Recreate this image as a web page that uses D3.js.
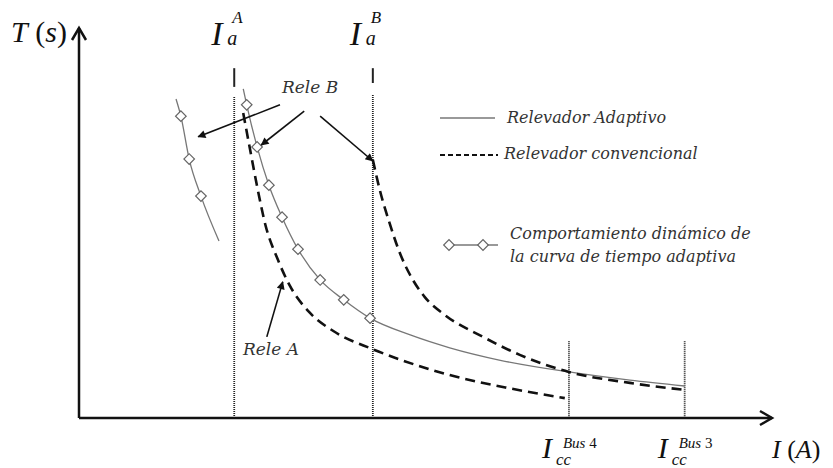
<!DOCTYPE html>
<html>
<head>
<meta charset="utf-8">
<script src="https://cdn.jsdelivr.net/npm/d3@7"></script>
<style>
  body { margin: 0; background: #fff; }
  svg { display: block; }
  .math { font-family: "Liberation Serif", "Times New Roman", serif; font-style: italic; fill: #111; }
  .note { font-family: "DejaVu Serif", serif; font-style: italic; fill: #333; }
</style>
</head>
<body>
<div id="chart"></div>
<script>
// schematic units: I (current) and T (time), both 0..100

// dashed conventional relay curves
var releA_conv = [[23.7,78.2],[24.7,68.7],[25.8,58.5],[26.9,49.5],[28.6,41.0],[30.4,34.0],[33.3,27.0],
                  [36.7,22.3],[42.3,17.7],[46.3,15.0],[53.5,11.0],[62.2,7.6],[70.1,5.1]]
var releB_conv = [[42.4,66.2],[43.4,58.5],[44.9,49.5],[46.3,42.3],[47.8,36.6],[49.9,31.0],[52.8,26.4],
                  [58.3,20.8],[63.6,16.2],[70.7,11.8],[79.5,9.0],[87.4,7.2]]
// adaptive relay (solid)
var adaptive = [[23.7,84.4],[24.2,80.3],[25.7,69.5],[27.4,59.7],[29.3,51.5],[31.6,43.3],[34.8,35.4],
                [38.2,30.3],[42.0,25.6],[47.8,21.3],[53.5,18.0],[60.8,14.8],[70.7,11.8],[79.5,9.7],[87.4,8.2]]
var adaptiveDiamonds = [[24.2,80.3],[25.7,69.5],[27.4,59.7],[29.3,51.5],[31.6,43.3],[34.8,35.4],[38.2,30.3],[42.0,25.6]]
// earlier position of the adaptive curve
var previous = [[14.0,81.8],[14.7,77.4],[15.9,66.4],[17.6,56.9],[20.2,45.4]]
var previousDiamonds = [[14.7,77.4],[15.9,66.4],[17.6,56.9]]

// vertical reference currents: x, solid tick (top, bottom), top of dotted part
var refI      = [22.4, 42.4, 70.7, 87.4]
var refTick   = [[89.7,84.9],[89.7,85.9],null,null]
var refDotTop = [82.3, 82.8, 19.7, 19.7]

// annotation arrows [from, to]
var arrowsB = [[[29.0,80.3],[17.2,72.1]], [[32.5,78.7],[26.3,70.0]], [[34.8,77.4],[42.4,65.9]]]
var arrowA  = [[[27.1,20.8],[29.4,34.9]]]

var width = 833, height = 468

var svg = d3.select("#chart").append("svg")
    .attr("width", width)
    .attr("height", height)

var x = d3.scaleLinear().domain([0, 100]).range([79, 772])
var y = d3.scaleLinear().domain([0, 100]).range([418, 28])

var defs = svg.append("defs")
defs.append("marker")
    .attr("id", "head")
    .attr("viewBox", "0 0 10 10")
    .attr("refX", 9).attr("refY", 5)
    .attr("markerWidth", 10).attr("markerHeight", 8)
    .attr("markerUnits", "userSpaceOnUse")
    .attr("orient", "auto")
    .append("path").attr("d", "M0,0 L10,5 L0,10 z").attr("fill", "#111")

var line = d3.line().x(function (d) { return x(d[0]) }).y(function (d) { return y(d[1]) })
var smooth = d3.line().curve(d3.curveMonotoneX)
    .x(function (d) { return x(d[0]) }).y(function (d) { return y(d[1]) })

// reference verticals
refI.forEach(function (v, i) {
    if (refTick[i]) {
        svg.append("line")
            .attr("x1", x(v)).attr("x2", x(v))
            .attr("y1", y(refTick[i][0])).attr("y2", y(refTick[i][1]))
            .attr("stroke", "#222").attr("stroke-width", 2)
    }
    svg.append("line")
        .attr("x1", x(v)).attr("x2", x(v))
        .attr("y1", y(refDotTop[i])).attr("y2", y(0))
        .attr("stroke", "#222").attr("stroke-width", 1.8)
        .attr("stroke-dasharray", "1,1")
})

// axes with open arrowheads
svg.append("line").attr("x1", x(0)).attr("x2", x(0)).attr("y1", y(0)).attr("y2", y(100))
    .attr("stroke", "#111").attr("stroke-width", 2.5)
svg.append("line").attr("x1", x(0)).attr("x2", x(100)).attr("y1", y(0)).attr("y2", y(0))
    .attr("stroke", "#111").attr("stroke-width", 2.5)
svg.append("path")
    .attr("d", "M" + (x(0) - 7) + "," + (y(100) + 12) + " L" + x(0) + "," + y(100) + " L" + (x(0) + 7) + "," + (y(100) + 12))
    .attr("fill", "none").attr("stroke", "#111").attr("stroke-width", 2.5)
svg.append("path")
    .attr("d", "M" + (x(100) - 12) + "," + (y(0) - 7) + " L" + x(100) + "," + y(0) + " L" + (x(100) - 12) + "," + (y(0) + 7))
    .attr("fill", "none").attr("stroke", "#111").attr("stroke-width", 2.5)

// curves
svg.append("path").datum(adaptive).attr("d", smooth)
    .attr("fill", "none").attr("stroke", "#777").attr("stroke-width", 1.3)
svg.append("path").datum(previous).attr("d", smooth)
    .attr("fill", "none").attr("stroke", "#777").attr("stroke-width", 1.3)
;[releA_conv, releB_conv].forEach(function (c) {
    svg.append("path").datum(c).attr("d", smooth)
        .attr("fill", "none").attr("stroke", "#111").attr("stroke-width", 2.6)
        .attr("stroke-dasharray", "10,6")
})

var diamond = d3.symbol().type(d3.symbolSquare).size(56)
svg.selectAll(".dia")
    .data(adaptiveDiamonds.concat(previousDiamonds))
    .enter().append("path")
    .attr("class", "dia")
    .attr("d", diamond)
    .attr("transform", function (d) { return "translate(" + x(d[0]) + "," + y(d[1]) + ") rotate(45)" })
    .attr("fill", "#fff").attr("stroke", "#666").attr("stroke-width", 1.2)

// annotation arrows
svg.selectAll(".arr")
    .data(arrowsB.concat(arrowA))
    .enter().append("path")
    .attr("class", "arr")
    .attr("d", line)
    .attr("stroke", "#111").attr("stroke-width", 1.6)
    .attr("marker-end", "url(#head)")

svg.append("text").attr("class", "note").attr("x", 282).attr("y", 93)
    .style("font-size", "17px").text("Rele  B")
svg.append("text").attr("class", "note").attr("x", 243).attr("y", 355)
    .style("font-size", "17px").text("Rele A")

// axis titles
var tl = svg.append("text").attr("class", "math").attr("x", 11).attr("y", 42).style("font-size", "30px")
tl.append("tspan").text("T")
tl.append("tspan").style("font-style", "normal").text(" (")
tl.append("tspan").text("s")
tl.append("tspan").style("font-style", "normal").text(")")

var il = svg.append("text").attr("class", "math").attr("x", 772).attr("y", 458).style("font-size", "26px")
il.append("tspan").text("I")
il.append("tspan").style("font-style", "normal").text(" (")
il.append("tspan").text("A")
il.append("tspan").style("font-style", "normal").text(")")

// I_a^A, I_a^B
;[["A", 0], ["B", 1]].forEach(function (p) {
    var cx = x(refI[p[1]])
    svg.append("text").attr("class", "math").attr("x", cx - 23).attr("y", 45).style("font-size", "34px").text("I")
    svg.append("text").attr("class", "math").attr("x", cx - 7).attr("y", 45).style("font-size", "20px").text("a")
    svg.append("text").attr("class", "math").attr("x", cx - 2).attr("y", 23).style("font-size", "17px").text(p[0])
})

// I_cc^Bus
;[["4", 2], ["3", 3]].forEach(function (p) {
    var cx = x(refI[p[1]])
    svg.append("text").attr("class", "math").attr("x", cx - 27).attr("y", 458).style("font-size", "30px").text("I")
    svg.append("text").attr("class", "math").attr("x", cx - 13).attr("y", 465).style("font-size", "17px").text("cc")
    var s = svg.append("text").attr("class", "math").attr("x", cx - 6).attr("y", 448).style("font-size", "15px")
    s.append("tspan").text("Bus ")
    s.append("tspan").style("font-style", "normal").text(p[0])
})

// legend
var lg = svg.append("g")
lg.append("line").attr("x1", 440).attr("x2", 495).attr("y1", 118).attr("y2", 118)
    .attr("stroke", "#777").attr("stroke-width", 1.3)
lg.append("text").attr("class", "note").attr("x", 507).attr("y", 123).style("font-size", "16px").text("Relevador Adaptivo")
lg.append("line").attr("x1", 440).attr("x2", 498).attr("y1", 155).attr("y2", 155)
    .attr("stroke", "#111").attr("stroke-width", 2.2).attr("stroke-dasharray", "5,3")
lg.append("text").attr("class", "note").attr("x", 504).attr("y", 159).style("font-size", "16px").text("Relevador convencional")
lg.append("line").attr("x1", 449).attr("x2", 498).attr("y1", 245).attr("y2", 245)
    .attr("stroke", "#777").attr("stroke-width", 1.3)
lg.selectAll(".ldia").data([449, 483]).enter().append("path")
    .attr("d", diamond)
    .attr("transform", function (d) { return "translate(" + d + ",245) rotate(45)" })
    .attr("fill", "#fff").attr("stroke", "#666").attr("stroke-width", 1.2)
lg.append("text").attr("class", "note").attr("x", 510).attr("y", 239).style("font-size", "16px").text("Comportamiento dinámico de")
lg.append("text").attr("class", "note").attr("x", 510).attr("y", 262).style("font-size", "16px").text("la curva de tiempo adaptiva")
</script>
</body>
</html>
